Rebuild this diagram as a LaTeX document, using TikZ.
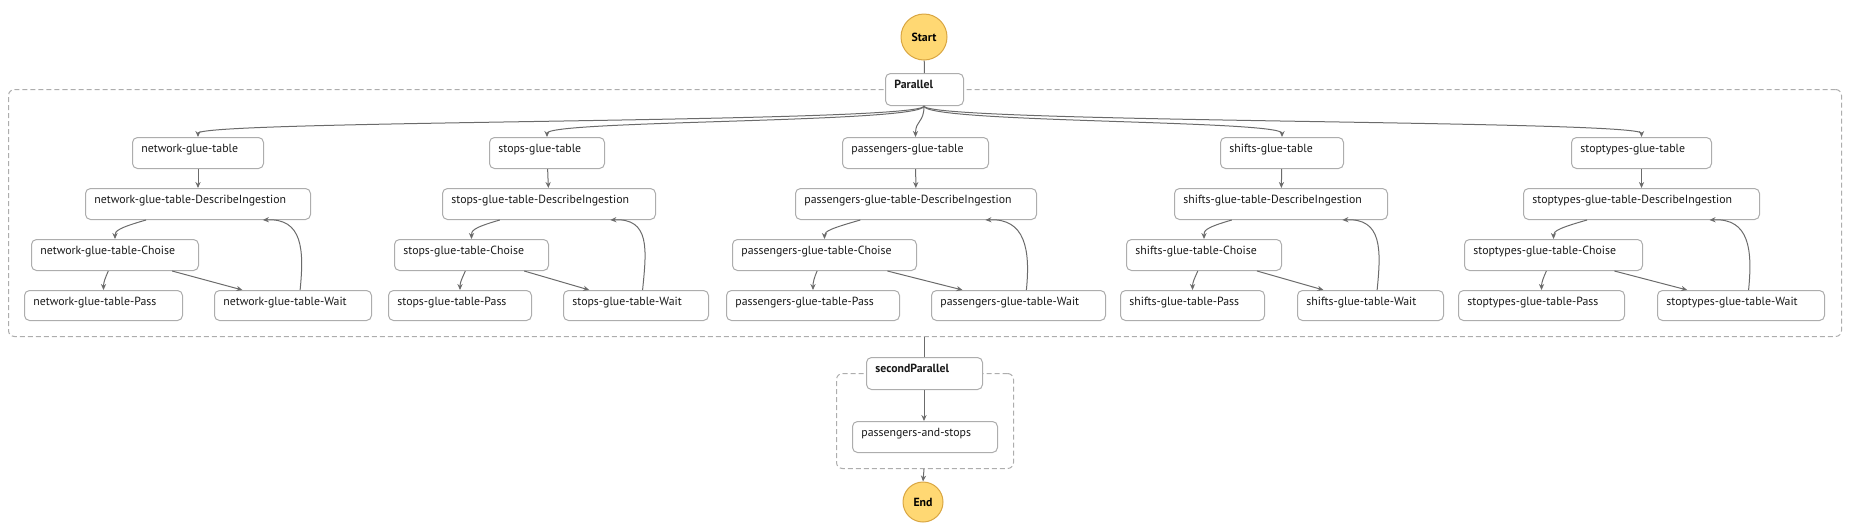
\documentclass[tikz,border=0pt]{standalone}
\usepackage{fontspec}
\setmainfont{PT Sans}
\usetikzlibrary{calc,arrows.meta}
\definecolor{edge}{HTML}{6B6B6B}
\definecolor{bd}{HTML}{ADADAD}
\definecolor{startfill}{HTML}{FFD873}
\definecolor{startbd}{HTML}{D9A642}
\tikzset{
  box/.style={draw=bd,fill=white,rounded corners=2.5pt,line width=0.5pt,inner sep=0,anchor=north west},
  dbox/.style={draw=bd,dash pattern=on 2.5pt off 1.5pt,rounded corners=3pt,line width=0.5pt,inner sep=0,anchor=north west},
  lbl/.style={anchor=north west,inner sep=0,font=\fontsize{5.9}{7}\selectfont,text=black!90},
  blbl/.style={lbl,font=\fontsize{5.9}{7}\selectfont\bfseries},
  term/.style={circle,draw=startbd,fill=startfill,line width=0.5pt,font=\fontsize{5.9}{7}\selectfont\bfseries,inner sep=0},
  arr/.style={draw=edge,line width=0.5pt,-{Stealth[length=3pt,width=2.6pt]}},
  ln/.style={draw=edge,line width=0.5pt}
}
\newcommand\bx[7][lbl]{%
  \node[box,minimum width={(#5-#3)*0.5pt},minimum height={(#6-#4)*0.5pt}] (#2) at (#3,#4) {};%
  \node[#1] (#2-t) at ($(#2.north west)+(9,7)$) {#7};}
\begin{document}
\begin{tikzpicture}[x=0.5pt,y=-0.5pt]
\node[dbox,minimum width={(1841-8)*0.5pt},minimum height={(336-89)*0.5pt}] (P1) at (8,89) {};
\node[dbox,minimum width={(1013-836)*0.5pt},minimum height={(468-373)*0.5pt}] (P2) at (836,373) {};
\node[term,minimum size=23pt] (start) at (924,37) {Start};
\bx[blbl]{par}{885}{73}{963}{105}{Parallel}
\bx[blbl]{spar}{866}{357}{982}{389}{secondParallel}
\bx{pas}{852}{421}{997}{452}{passengers-and-stops}
\node[term,minimum size=20pt] (end) at (923,502) {End};
\draw[ln] (start) -- (par);
\draw[ln] (P1.south -| start.south) -- (spar.north -| start.south);
\draw[arr] (spar.south -| start.south) -- (pas.north -| start.south);
\draw[arr] (P2.south -| start.south) -- (end.north);
\foreach \n/\ta/\tb/\da/\db/\ca/\cb/\pa/\pb/\wa/\wb/\nm in {
 a/132/263/85/310/31/198/24/182/214/371/network,
 b/489/604/442/655/394/548/388/531/563/708/stops,
 c/842/988/795/1036/732/916/726/899/931/1105/passengers,
 d/1220/1343/1174/1387/1126/1281/1120/1264/1297/1443/shifts,
 e/1571/1711/1523/1759/1464/1642/1458/1624/1657/1824/stoptypes}{
 \bx{t\n}{\ta}{137}{\tb}{168}{\nm-glue-table}
 \bx{d\n}{\da}{188}{\db}{219}{\nm-glue-table-DescribeIngestion}
 \bx{c\n}{\ca}{239}{\cb}{270}{\nm-glue-table-Choise}
 \bx{p\n}{\pa}{290}{\pb}{320}{\nm-glue-table-Pass}
 \bx{w\n}{\wa}{290}{\wb}{320}{\nm-glue-table-Wait}
 \draw[arr] (par.south -| start.south) .. controls +(0,17) and +(0,-17) .. (t\n.north);
 \draw[arr] (t\n) -- (d\n);
 \draw[arr] ($(d\n.south west)!0.27!(d\n.south east)$) .. controls +(-28,8) and +(0,-8) .. (c\n.north);
 \draw[arr] ($(c\n.south west)!0.46!(c\n.south east)$) .. controls +(-3,7) and +(0,-8) .. (p\n.north);
 \draw[arr] ($(c\n.south west)!0.84!(c\n.south east)$) -- ($(w\n.north west)!0.18!(w\n.north east)$);
 \draw[arr] ($(w\n.north west)!0.545!(w\n.north east)$) .. controls +(4,-40) and +(40,-2) .. ($(d\n.south west)!0.787!(d\n.south east)$);
}
\pgfresetboundingbox
\useasboundingbox (0,0) rectangle (1850,531);
\end{tikzpicture}
\end{document}
